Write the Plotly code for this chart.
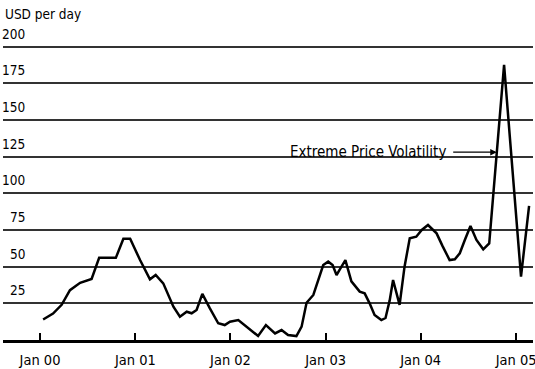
import plotly.graph_objects as go

# ---- data ----
dates = [
    "2000-01-13", "2000-02-20", "2000-03-24", "2000-04-25", "2000-06-03", "2000-07-17",
    "2000-08-15", "2000-10-18", "2000-11-16", "2000-12-12", "2001-01-19", "2001-02-26",
    "2001-03-20", "2001-04-18", "2001-05-27", "2001-06-21", "2001-07-17", "2001-08-05",
    "2001-08-24", "2001-09-15", "2001-10-14", "2001-11-15", "2001-12-10", "2001-12-30",
    "2002-01-31", "2002-03-04", "2002-04-17", "2002-05-17", "2002-06-21", "2002-07-16",
    "2002-08-10", "2002-09-11", "2002-10-01", "2002-10-20", "2002-11-15", "2002-12-23",
    "2003-01-11", "2003-01-28", "2003-02-12", "2003-02-27", "2003-03-18", "2003-04-10",
    "2003-05-12", "2003-05-31", "2003-06-19", "2003-07-08", "2003-08-03", "2003-08-19",
    "2003-09-04", "2003-09-17", "2003-10-12", "2003-10-31", "2003-11-20", "2003-12-15",
    "2004-01-05", "2004-01-29", "2004-03-02", "2004-03-25", "2004-04-21", "2004-05-11",
    "2004-05-30", "2004-06-18", "2004-07-10", "2004-08-02", "2004-08-28", "2004-09-20",
    "2004-11-16", "2005-01-20", "2005-02-20",
]
usd_per_day = [
    14, 18, 24, 34, 39, 41.6,
    56, 56, 69, 69, 54.5, 41.4,
    44.3, 38.6, 22.7, 15.9, 19.3, 18.2,
    20.5, 31.4, 21.6, 11.4, 10.2, 12.5,
    13.6, 9.1, 2.7, 10.2, 4.5, 6.8,
    3.4, 2.7, 9.1, 25.4, 30.7, 51.1,
    53.4, 51.1, 44.3, 48.9, 54.5, 40,
    33, 31.8, 25, 17, 13.6, 15,
    27, 40.9, 23.9, 50, 69.3, 70.4,
    75, 78.4, 72.7, 64, 54.5, 55,
    59.1, 68, 77.7, 68.2, 61.8, 65.9,
    187.5, 43.2, 91.5,
]
x_tick_dates = ["2000-01-01", "2001-01-01", "2002-01-01", "2003-01-01", "2004-01-01", "2005-01-01"]
x_tick_labels = ["Jan 00", "Jan 01", "Jan 02", "Jan 03", "Jan 04", "Jan 05"]
y_tick_values = [25, 50, 75, 100, 125, 150, 175, 200]
y_tick_labels = ["25", "50", "75", "100", "125", "150", "175", "200"]
y_title = "USD per day"
callout_text = "Extreme Price Volatility"
callout_value = 128
callout_text_end = "2004-04-14"
callout_arrow_tail = "2004-04-29"
callout_arrow_head = "2004-10-19"

FONT = "Liberation Sans Narrow, DejaVu Sans Condensed, Arial Narrow, sans-serif"

fig = go.Figure()
fig.add_trace(go.Scatter(
    x=dates, y=usd_per_day, mode="lines",
    line=dict(color="black", width=2.5),
    showlegend=False, hoverinfo="skip",
))

annotations = []
for v, t in zip(y_tick_values, y_tick_labels):
    annotations.append(dict(
        text=t, xref="paper", x=(27 - 3) / 530, xanchor="right",
        yref="y", y=v, yanchor="bottom", yshift=3,
        showarrow=False, font=dict(family=FONT, size=13.5, color="black"),
    ))
annotations.append(dict(
    text=y_title, xref="paper", x=0, xanchor="left",
    yref="paper", y=1, yanchor="bottom", yshift=16,
    showarrow=False, font=dict(family=FONT, size=13.5, color="black"),
))
annotations.append(dict(
    text=callout_text, xref="x", x=callout_text_end, xanchor="right",
    yref="y", y=callout_value, yanchor="middle",
    showarrow=False, font=dict(family=FONT, size=15, color="black"),
))
annotations.append(dict(
    text="", xref="x", x=callout_arrow_head, yref="y", y=callout_value,
    axref="x", ax=callout_arrow_tail, ayref="y", ay=callout_value,
    showarrow=True, arrowhead=2, arrowsize=1, arrowwidth=1.3, arrowcolor="black",
))

fig.update_layout(
    width=535, height=369,
    margin=dict(l=3, r=2, t=40, b=29),
    paper_bgcolor="white", plot_bgcolor="white",
    font=dict(family=FONT, size=15, color="black"),
    annotations=annotations,
    xaxis=dict(
        range=["1999-08-12", "2005-03-07"],
        tickvals=x_tick_dates, ticktext=x_tick_labels,
        ticks="inside", ticklen=7, tickwidth=1.5, tickcolor="black",
        showgrid=False, zeroline=False,
        showline=True, linewidth=3, linecolor="black",
        tickfont=dict(family=FONT, size=14.5, color="black"),
        ticklabelstandoff=5, automargin=False, ticklabeloverflow="allow",
    ),
    yaxis=dict(
        range=[0, 204.5],
        tickvals=y_tick_values, showticklabels=False,
        showgrid=True, gridcolor="#333", gridwidth=1.5,
        zeroline=False, showline=False, ticks="", automargin=False,
    ),
)

fig.write_html(
    "out.html",
    config={"displayModeBar": False},
    post_script="document.body.style.margin='0';document.body.style.padding='0';",
)
